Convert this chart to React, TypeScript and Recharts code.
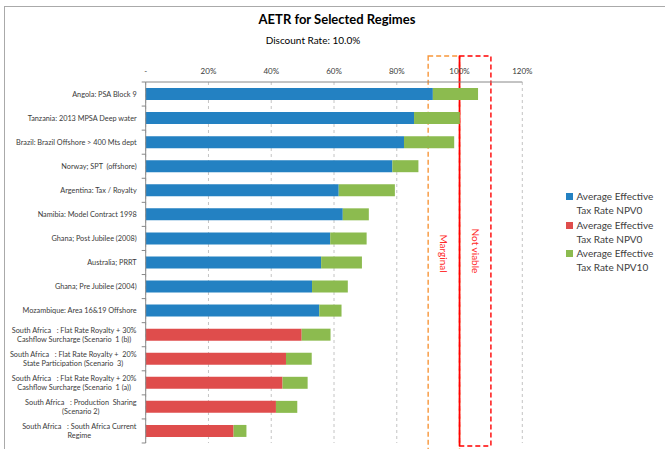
import { BarChart, Bar, XAxis, YAxis, CartesianGrid, ReferenceArea } from 'recharts'

const regimes = [
  'Angola: PSA Block 9',
  'Tanzania: 2013 MPSA Deep water',
  'Brazil: Brazil Offshore > 400 Mts dept',
  'Norway; SPT  (offshore)',
  'Argentina: Tax / Royalty',
  'Namibia: Model Contract 1998',
  'Ghana; Post Jubilee (2008)',
  'Australia; PRRT',
  'Ghana; Pre Jubilee (2004)',
  'Mozambique: Area 16&19 Offshore',
  'South Africa   : Flat Rate Royalty + 30%\nCashflow Surcharge (Scenario  1 (b))',
  'South Africa   : Flat Rate Royalty +  20%\nState Participation (Scenario  3)',
  'South Africa   : Flat Rate Royalty + 20%\nCashflow Surcharge (Scenario  1 (a))',
  'South Africa   : Production  Sharing\n(Scenario 2)',
  'South Africa   : South Africa Current\nRegime',
]
// NPV0 for international regimes (blue) and South African scenarios (red)
const npv0Intl = [91.5, 85.5, 82.3, 78.6, 61.5, 62.8, 58.8, 55.9, 53.0, 55.3, null, null, null, null, null]
const npv0SA = [null, null, null, null, null, null, null, null, null, null, 49.7, 44.7, 43.6, 41.5, 28.0]
// extra rate from NPV0 to NPV10 (green)
const npv10Extra = [14.4, 14.6, 16.0, 8.3, 17.9, 8.3, 11.6, 13.0, 11.4, 7.1, 9.2, 8.2, 8.0, 6.8, 4.1]
const xTicks = [0, 20, 40, 60, 80, 100, 120]

const data = regimes.map((name, i) => ({
  name,
  blue: npv0Intl[i],
  red: npv0SA[i],
  green: npv10Extra[i],
}))

const FONT = 'Lato, "Noto Sans", sans-serif'
const BLUE = '#2381C2'
const RED = '#DF4D4C'
const GREEN = '#8CBB4F'

const series = [
  { key: 'blue', name: 'Average Effective Tax Rate NPV0', color: BLUE },
  { key: 'red', name: 'Average Effective Tax Rate NPV0', color: RED },
  { key: 'green', name: 'Average Effective Tax Rate NPV10', color: GREEN },
]

let ctx: CanvasRenderingContext2D | null = null
function textWidth(s: string, font: string) {
  if (!ctx) ctx = document.createElement('canvas').getContext('2d')
  if (!ctx) return s.length * 3.6
  ctx.font = font
  return ctx.measureText(s).width
}

function RegimeTick(props: any) {
  const { x, y, payload, index } = props
  const lines = String(payload.value).split('\n')
  const font = `7.3px ${FONT}`
  const maxW = Math.max(...lines.map((l) => textWidth(l, font)))
  const cx = x - maxW / 2
  const half = 12.03
  const axisX = x + 9
  return (
    <g>
      <line x1={axisX - 4} x2={axisX} y1={y - half} y2={y - half} stroke="#888" />
      {index === regimes.length - 1 && (
        <line x1={axisX - 4} x2={axisX} y1={y + half} y2={y + half} stroke="#888" />
      )}
      {lines.map((l, i) => (
        <text
          key={i}
          x={lines.length > 1 ? cx : x}
          y={y + (i - (lines.length - 1) / 2) * 9.5}
          dy="0.35em"
          textAnchor={lines.length > 1 ? 'middle' : 'end'}
          fill="#3a3a3a"
          style={{ font, whiteSpace: 'pre' }}
        >
          {l}
        </text>
      ))}
    </g>
  )
}

function BoxShape(props: any, color: string, label: string, extra: number, solidLeft: boolean) {
  const { x, y, width, height } = props
  const top = y - 26
  const h = height + 26 + extra
  return (
    <g>
      <rect x={x} y={top} width={width} height={h} fill="none" stroke={color} strokeWidth={1.4} strokeDasharray="5 3" />
      {solidLeft && <line x1={x} x2={x} y1={top} y2={top + h} stroke={color} strokeWidth={1.6} />}
      <text
        x={x + width / 2}
        y={top + h / 2}
        transform={`rotate(90 ${x + width / 2} ${top + h / 2})`}
        textAnchor="middle"
        dy="0.35em"
        fill="#FF2A2A"
        style={{ fontFamily: FONT, fontSize: 10 }}
      >
        {label}
      </text>
    </g>
  )
}

export default function App() {
  return (
    <div style={{ position: 'absolute', left: 0, top: 0, width: 665, height: 449, background: '#fff', overflow: 'hidden', fontFamily: FONT }}>
      <div style={{ position: 'absolute', left: 4, top: 6, right: 0, bottom: 0, borderTop: '1px solid #aaa', borderLeft: '1px solid #aaa' }} />
      <div style={{ position: 'absolute', left: 237, width: 200, top: 11, textAlign: 'center', fontSize: 13, fontWeight: 700, color: '#000' }}>
        AETR for Selected Regimes
      </div>
      <div style={{ position: 'absolute', left: 213, width: 200, top: 34, textAlign: 'center', fontSize: 10, color: '#000' }}>
        Discount Rate: 10.0%
      </div>
      <BarChart
        width={665}
        height={449}
        data={data}
        layout="vertical"
        margin={{ top: 62, right: 142.7, bottom: 6, left: 5.7 }}
        barSize={12}
        style={{ position: 'absolute', left: 0, top: 0 }}
      >
        <CartesianGrid horizontal={false} stroke="#c4c4c4" strokeDasharray="3 3" />
        <XAxis
          type="number"
          orientation="top"
          domain={[0, 120]}
          ticks={xTicks}
          height={20}
          tickLine={false}
          axisLine={{ stroke: '#888' }}
          tickMargin={2}
          tickFormatter={(v: number) => (v === 0 ? '-' : `${v}%`)}
          tick={{ fill: '#3a3a3a', fontSize: 8, fontFamily: FONT }}
        />
        <YAxis
          type="category"
          dataKey="name"
          width={140}
          tickLine={false}
          axisLine={{ stroke: '#888' }}
          interval={0}
          tickMargin={3}
          tick={<RegimeTick />}
        />
        {series.map((s) => (
          <Bar key={s.key} dataKey={s.key} name={s.name} stackId="a" fill={s.color} isAnimationActive={false} />
        ))}
        <ReferenceArea
          x1={90}
          x2={100}
          ifOverflow="visible"
          shape={(p: any) => BoxShape(p, '#F7963A', 'Marginal', 8, false)}
        />
        <ReferenceArea
          x1={100}
          x2={110}
          ifOverflow="visible"
          shape={(p: any) => BoxShape(p, '#FF0000', 'Not viable', 3, true)}
        />
      </BarChart>
      <div style={{ position: 'absolute', left: 566, top: 189, fontSize: 10, color: '#404040', lineHeight: '14px' }}>
        {series.map((s) => {
          const cut = s.name.indexOf(' Tax')
          return (
            <div key={s.key} style={{ display: 'flex', alignItems: 'flex-start', marginBottom: 0.5 }}>
              <span style={{ width: 7, height: 7, background: s.color, marginTop: 4, marginRight: 3.5, flex: 'none' }} />
              <span>
                {s.name.slice(0, cut)}
                <br />
                {s.name.slice(cut + 1)}
              </span>
            </div>
          )
        })}
      </div>
    </div>
  )
}
